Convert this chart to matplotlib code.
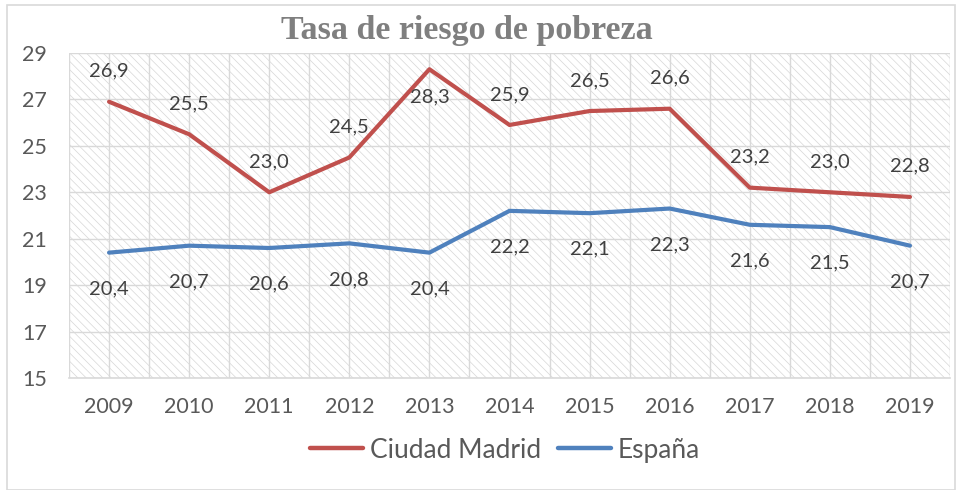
import numpy as np
import matplotlib.pyplot as plt
from matplotlib.patches import Rectangle
from matplotlib.lines import Line2D

# datos
years = ['2009', '2010', '2011', '2012', '2013', '2014', '2015', '2016', '2017', '2018', '2019']
madrid = [26.9, 25.5, 23.0, 24.5, 28.3, 25.9, 26.5, 26.6, 23.2, 23.0, 22.8]
espana = [20.4, 20.7, 20.6, 20.8, 20.4, 22.2, 22.1, 22.3, 21.6, 21.5, 20.7]
y_ticks = [15, 17, 19, 21, 23, 25, 27, 29]

plt.rcParams['font.family'] = ['Lato', 'DejaVu Sans']
plt.rcParams['hatch.linewidth'] = 0.5
plt.rcParams['hatch.color'] = '#d6d6d6'

red = '#c0504d'
blue = '#4f81bd'

fig = plt.figure(figsize=(9.57, 4.9), dpi=100)
ax = fig.add_axes([69 / 957, 1 - 378 / 490, 881 / 957, 325 / 490])

# borde exterior
fig.patches.append(Rectangle((7 / 957, 0), 948 / 957, 485 / 490, transform=fig.transFigure,
                             fill=False, edgecolor='#d9d9d9', linewidth=1.2))

x = np.arange(len(years))
ax.set_xlim(-0.5, len(years) - 0.5)
ax.set_ylim(15, 29)

# fondo rayado
ax.add_patch(Rectangle((0, 0), 1, 1, transform=ax.transAxes, facecolor='white',
                       hatch='\\\\\\\\', edgecolor='#d6d6d6', linewidth=0, zorder=0))

# rejilla
for yv in y_ticks:
    ax.axhline(yv, color='#d9d9d9', linewidth=1.0, zorder=1)
for xv in np.arange(-0.5, len(years), 0.5):
    ax.axvline(xv, color='#d9d9d9', linewidth=1.0, zorder=1)

ax.plot(x, madrid, color=red, linewidth=3, solid_capstyle='round', zorder=3)
ax.plot(x, espana, color=blue, linewidth=3, solid_capstyle='round', zorder=3)

# etiquetas de datos
for i, v in enumerate(madrid):
    off = 22 if i != 4 else -20
    ax.annotate(f'{v:.1f}'.replace('.', ','), (i, v), xytext=(0, off), textcoords='offset points',
                ha='center', va='center', fontsize=14.5, color='#404040', zorder=4)
for i, v in enumerate(espana):
    ax.annotate(f'{v:.1f}'.replace('.', ','), (i, v), xytext=(0, -26), textcoords='offset points',
                ha='center', va='center', fontsize=14.5, color='#404040', zorder=4)

ax.set_xticks(x)
ax.set_xticklabels(years)
ax.set_yticks(y_ticks)
ax.tick_params(axis='both', length=0, labelsize=15.5, labelcolor='#595959')
ax.tick_params(axis='x', pad=14)
ax.tick_params(axis='y', pad=16)
for s in ['top', 'right', 'left']:
    ax.spines[s].set_visible(False)
ax.spines['bottom'].set_color('#d9d9d9')
ax.spines['bottom'].set_linewidth(1.2)

fig.text(467 / 957, 1 - 31 / 490, 'Tasa de riesgo de pobreza', ha='center', va='center',
         fontsize=24.5, fontweight='bold', color='#7f7f7f', family='Liberation Serif')

handles = [Line2D([], [], color=red, linewidth=3.2, solid_capstyle='round'),
           Line2D([], [], color=blue, linewidth=3.2, solid_capstyle='round')]
fig.legend(handles, ['Ciudad Madrid', 'España'], loc='center', bbox_to_anchor=(505 / 957, 1 - 450 / 490),
           ncol=2, frameon=False, fontsize=19, labelcolor='#595959', handlelength=2.0,
           columnspacing=0.65, handletextpad=0.25)

plt.savefig('out.png', dpi=100)
